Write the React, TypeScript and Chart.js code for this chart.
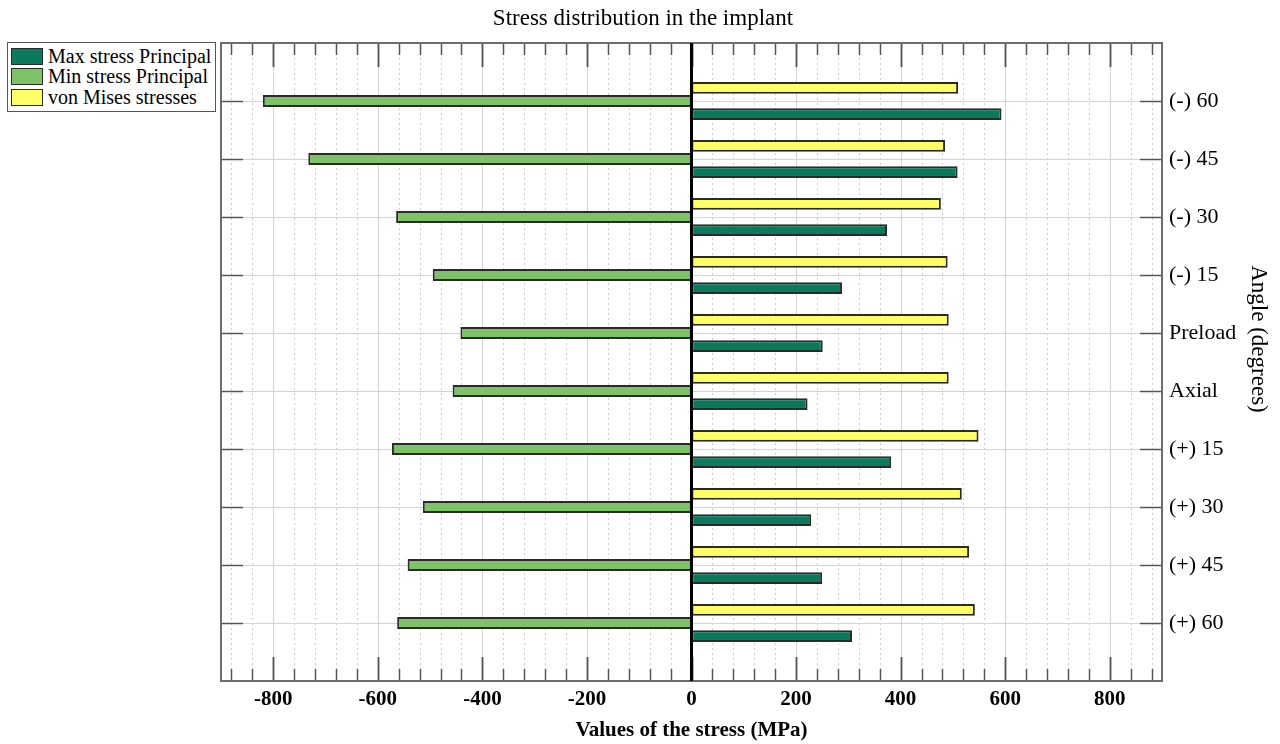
import React, { useEffect, useRef } from 'react';
import { Chart, registerables } from 'chart.js';

Chart.register(...registerables);

const FONT = '"Liberation Serif", "Times New Roman", serif';

// Loading angles (right axis, top to bottom)
const angleLabels = ['(-) 60', '(-) 45', '(-) 30', '(-) 15', 'Preload', 'Axial', '(+) 15', '(+) 30', '(+) 45', '(+) 60'];

// Stress values in MPa
const maxPrincipal = [593, 509, 374, 288, 251, 222, 382, 229, 250, 307];
const minPrincipal = [-820, -733, -565, -495, -442, -457, -573, -514, -543, -563];
const vonMises = [510, 485, 477, 490, 492, 492, 549, 517, 531, 542];

// Stress axis range, labelled ticks and minor tick spacing
const xMin = -900;
const xMax = 900;
const xTickValues = [-800, -600, -400, -200, 0, 200, 400, 600, 800];
const majorStep = 200;
const minorStep = 40;

const seriesNames = ['Max stress Principal', 'Min stress Principal', 'von Mises stresses'];
const seriesColors = ['#0b7a5c', '#7dc168', '#ffff66'];

const chartTitle = 'Stress distribution in the implant';
const xTitle = 'Values of the stress (MPa)';
const yTitle = 'Angle (degrees)';

// empty slot above and below the angle categories
const slotLabels = ['', ...angleLabels, ''];
const padSlots = (arr: number[]) => [null, ...arr, null];

function seg(ctx: CanvasRenderingContext2D, x1: number, y1: number, x2: number, y2: number) {
  ctx.beginPath();
  ctx.moveTo(x1, y1);
  ctx.lineTo(x2, y2);
  ctx.stroke();
}

const plotFrame = {
  id: 'plotFrame',
  beforeDatasetsDraw(chart: any) {
    const { ctx, chartArea: a } = chart;
    const x = chart.scales.x;
    const y = chart.scales.y;
    ctx.save();
    ctx.lineWidth = 1;
    // dotted minor verticals
    ctx.strokeStyle = '#cccccc';
    ctx.setLineDash([2, 3]);
    for (let v = Math.ceil(xMin / minorStep) * minorStep; v <= xMax; v += minorStep) {
      if (v % majorStep === 0) continue;
      const px = Math.round(x.getPixelForValue(v)) + 0.5;
      seg(ctx, px, a.top, px, a.bottom);
    }
    ctx.setLineDash([]);
    // solid major verticals
    ctx.strokeStyle = '#d4d4d4';
    for (const v of xTickValues) {
      const px = Math.round(x.getPixelForValue(v)) + 0.5;
      seg(ctx, px, a.top, px, a.bottom);
    }
    // horizontals at each angle
    for (let i = 1; i <= angleLabels.length; i++) {
      const py = Math.round(y.getPixelForValue(i)) + 0.5;
      seg(ctx, a.left, py, a.right, py);
    }
    ctx.restore();
  },
  afterDatasetsDraw(chart: any) {
    const { ctx, chartArea: a } = chart;
    const x = chart.scales.x;
    const y = chart.scales.y;
    ctx.save();
    ctx.strokeStyle = '#555';
    ctx.lineWidth = 1.5;
    // inward tick marks on top and bottom
    for (let v = Math.ceil(xMin / minorStep) * minorStep; v <= xMax; v += minorStep) {
      const len = v % majorStep === 0 ? 24 : 12;
      const px = Math.round(x.getPixelForValue(v)) + 0.5;
      seg(ctx, px, a.bottom, px, a.bottom - len);
      seg(ctx, px, a.top, px, a.top + len);
    }
    for (const v of xTickValues) {
      const px = Math.round(x.getPixelForValue(v)) + 0.5;
      seg(ctx, px, a.bottom, px, a.bottom - 24);
      seg(ctx, px, a.top, px, a.top + 24);
    }
    // inward tick marks on left and right at each angle
    for (let i = 1; i <= angleLabels.length; i++) {
      const py = Math.round(y.getPixelForValue(i)) + 0.5;
      seg(ctx, a.left, py, a.left + 22, py);
      seg(ctx, a.right, py, a.right - 22, py);
    }
    // plot frame
    ctx.strokeStyle = '#6e6e6e';
    ctx.lineWidth = 2;
    ctx.strokeRect(a.left, a.top, a.right - a.left, a.bottom - a.top);
    // zero line
    const zx = x.getPixelForValue(0);
    ctx.strokeStyle = '#000';
    ctx.lineWidth = 3;
    seg(ctx, zx, a.top, zx, a.bottom);
    ctx.restore();
  },
  afterDraw(chart: any) {
    const { ctx, chartArea: a } = chart;
    ctx.save();
    ctx.fillStyle = '#000';
    ctx.textAlign = 'center';
    ctx.textBaseline = 'middle';
    // chart title centred on the canvas
    ctx.font = `23px ${FONT}`;
    ctx.fillText(chartTitle, chart.width / 2 + 3, 19);
    // right-hand axis title, reading downwards
    ctx.translate(a.right + 96, a.top + 296);
    ctx.rotate(Math.PI / 2);
    ctx.font = `23px ${FONT}`;
    ctx.fillText(yTitle, 0, 0);
    ctx.restore();
  },
};

function Legend() {
  const order = [0, 1, 2];
  return (
    <div
      style={{
        position: 'absolute',
        left: 7,
        top: 42,
        width: 207,
        height: 65,
        border: '1.5px solid #555',
        background: '#fff',
        fontFamily: FONT,
        fontSize: 20,
        color: '#000',
        paddingTop: 3,
        boxSizing: 'content-box',
      }}
    >
      {order.map((i) => (
        <div key={i} style={{ display: 'flex', alignItems: 'center', height: 20.5, whiteSpace: 'nowrap' }}>
          <span
            style={{
              display: 'inline-block',
              width: 30,
              height: 15,
              marginLeft: 3,
              marginRight: 5,
              background: seriesColors[i],
              border: '1.5px solid #2a2a2a',
            }}
          />
          <span>{seriesNames[i]}</span>
        </div>
      ))}
    </div>
  );
}

export default function App() {
  const canvasRef = useRef<HTMLCanvasElement>(null);

  useEffect(() => {
    const canvas = canvasRef.current;
    if (!canvas) return;
    const barStyle = { borderColor: '#2a2a2a', borderWidth: 2, borderSkipped: false };
    const chart = new Chart(canvas, {
      type: 'bar',
      data: {
        labels: slotLabels,
        datasets: [
          { label: seriesNames[2], data: padSlots(vonMises), backgroundColor: seriesColors[2], ...barStyle },
          { label: seriesNames[1], data: padSlots(minPrincipal), backgroundColor: seriesColors[1], ...barStyle },
          { label: seriesNames[0], data: padSlots(maxPrincipal), backgroundColor: seriesColors[0], ...barStyle },
        ] as any,
      },
      plugins: [plotFrame],
      options: {
        indexAxis: 'y',
        responsive: false,
        animation: false,
        categoryPercentage: 0.68,
        barPercentage: 0.9,
        layout: { padding: { left: 221, right: 0, top: 43, bottom: 0 } },
        plugins: {
          legend: { display: false },
          tooltip: { enabled: false },
          title: { display: false },
        },
        scales: {
          x: {
            type: 'linear',
            position: 'bottom',
            min: xMin,
            max: xMax,
            grid: { display: false, drawTicks: false },
            border: { display: false },
            afterBuildTicks: (s: any) => {
              s.ticks = xTickValues.map((value) => ({ value }));
            },
            ticks: {
              autoSkip: false,
              maxRotation: 0,
              padding: 6,
              color: '#000',
              font: { family: FONT, size: 21, weight: 'bold' },
              callback: (v: any) => String(v),
            },
            title: {
              display: true,
              text: xTitle,
              color: '#000',
              font: { family: FONT, size: 21, weight: 'bold' },
              padding: { top: 0, bottom: 1 },
            },
            afterFit: (s: any) => {
              s.height = 63;
            },
          },
          y: {
            type: 'category',
            position: 'right',
            offset: false,
            grid: { display: false, drawTicks: false },
            border: { display: false },
            ticks: {
              autoSkip: false,
              padding: 7,
              color: '#000',
              font: { family: FONT, size: 22 },
            },
            afterFit: (s: any) => {
              s.width = 118;
            },
          },
        },
      } as any,
    });
    return () => chart.destroy();
  }, []);

  return (
    <div style={{ position: 'absolute', left: 0, top: 0, width: 1280, height: 744, background: '#fff' }}>
      <canvas ref={canvasRef} width={1280} height={744} style={{ display: 'block' }} />
      <Legend />
    </div>
  );
}
